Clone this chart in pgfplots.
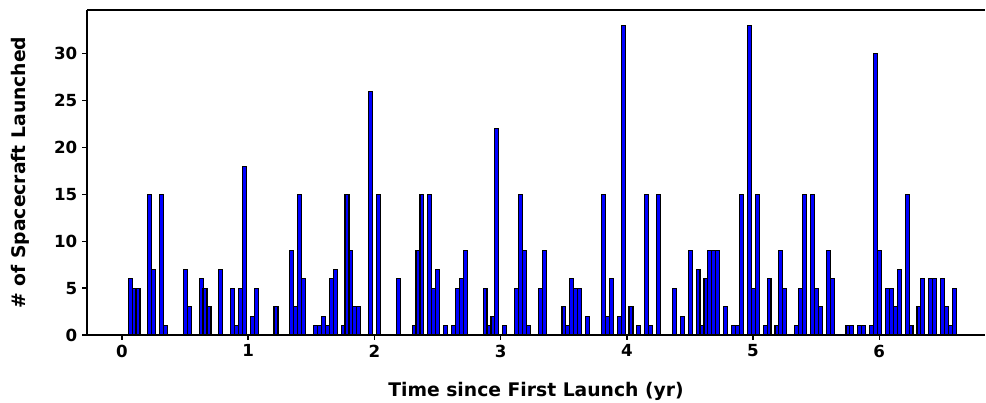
\documentclass[border=0pt]{standalone}
\usepackage{fontspec}
\setmainfont{DejaVu Sans}
\usepackage{pgfplots}
\usepackage{pgfplotstable}
\pgfplotsset{compat=1.18}

% launches per bin (bin width 1/32 yr); x = bin centre in years
\pgfplotstableread{
x n
0.0644 6
0.0956 5
0.1269 5
0.2206 15
0.2519 7
0.3144 15
0.3456 1
0.5019 7
0.5331 3
0.6269 6
0.6581 5
0.6894 3
0.7831 7
0.8769 5
0.9081 1
0.9394 5
0.9706 18
1.0331 2
1.0644 5
1.2206 3
1.3456 9
1.3769 3
1.4081 15
1.4394 6
1.5331 1
1.5644 1
1.5956 2
1.6269 1
1.6581 6
1.6894 7
1.7519 1
1.7831 15
1.8144 9
1.8456 3
1.8769 3
1.9706 26
2.0331 15
2.1894 6
2.3144 1
2.3456 9
2.3769 15
2.4394 15
2.4706 5
2.5019 7
2.5644 1
2.6269 1
2.6581 5
2.6894 6
2.7206 9
2.8769 5
2.9081 1
2.9394 2
2.9706 22
3.0331 1
3.1269 5
3.1581 15
3.1894 9
3.2206 1
3.3144 5
3.3456 9
3.5019 3
3.5331 1
3.5644 6
3.5956 5
3.6269 5
3.6894 2
3.8144 15
3.8456 2
3.8769 6
3.9394 2
3.9706 33
4.0331 3
4.0956 1
4.1581 15
4.1894 1
4.2519 15
4.3769 5
4.4394 2
4.5019 9
4.5644 7
4.5956 1
4.6269 6
4.6581 9
4.6894 9
4.7206 9
4.7831 3
4.8456 1
4.8769 1
4.9081 15
4.9706 33
5.0019 5
5.0331 15
5.0956 1
5.1269 6
5.1894 1
5.2206 9
5.2519 5
5.3456 1
5.3769 5
5.4081 15
5.4706 15
5.5019 5
5.5331 3
5.5956 9
5.6269 6
5.7519 1
5.7831 1
5.8456 1
5.8769 1
5.9394 1
5.9706 30
6.0019 9
6.0644 5
6.0956 5
6.1269 3
6.1581 7
6.2206 15
6.2519 1
6.3144 3
6.3456 6
6.4081 6
6.4394 6
6.5019 6
6.5331 3
6.5644 1
6.5956 5
}\launches

\begin{document}
\begin{tikzpicture}
\begin{axis}[
  name=ax,
  scale only axis,
  width=646.56pt, height=234pt,
  xmin=-0.277, xmax=6.838,
  ymin=0, ymax=34.65,
  axis x line*=box, axis y line*=left,
  x axis line style={-}, y axis line style={-},
  axis line style={line width=1.3pt, black},
  xtick={0,1,...,6}, ytick={0,5,...,30},
  xtick pos=left, ytick pos=left,
  tick align=outside,
  major tick length=3.5pt,
  tick style={line width=1pt, black},
  /pgf/number format/assume math mode=true,
  tick label style={font=\fontsize{12}{14}\selectfont\bfseries},
  label style={font=\fontsize{13.5}{16}\selectfont\bfseries},
  xlabel={Time since First Launch (yr)},
  ylabel={\# of Spacecraft Launched},
  xlabel style={at={(axis description cs:0.5,-0.172)}, anchor=center},
  ylabel style={at={(axis description cs:-0.0746,0.5)}, anchor=center},
  ybar, bar width=0.03125,
]
\addplot[fill=blue, draw=black, line width=0.8pt] table[x=x, y=n] {\launches};
\end{axis}
\pgfresetboundingbox
\path[use as bounding box] ([shift={(-62.64pt,-48.24pt)}]ax.south west) rectangle ([shift={(0.72pt,7.2pt)}]ax.north east);
\end{tikzpicture}
\end{document}
